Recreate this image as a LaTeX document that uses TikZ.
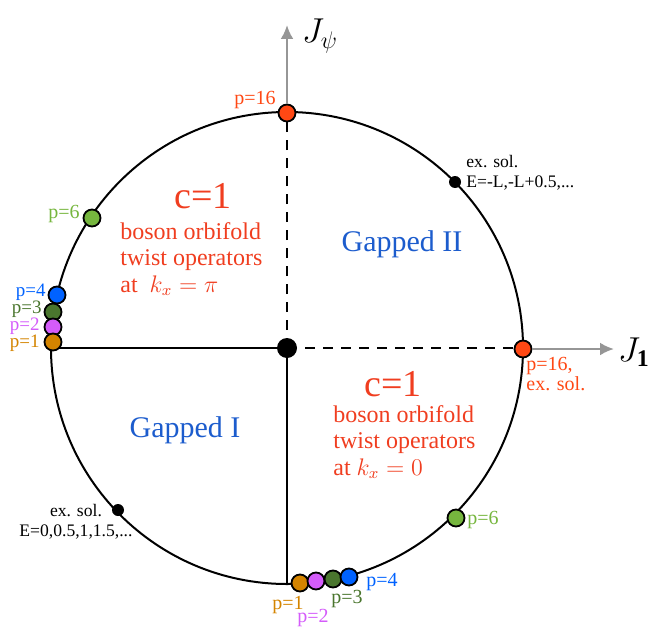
\documentclass[tikz,border=0pt]{standalone}
\usepackage{fontspec}
\setmainfont{Liberation Serif}
\usepackage{amsmath}
\usetikzlibrary{arrows.meta, positioning}
\definecolor{cred}{RGB}{240,62,32}
\definecolor{dred}{RGB}{255,72,20}
\definecolor{gblue}{RGB}{28,92,205}
\definecolor{pblue}{RGB}{0,98,255}
\definecolor{lgreen}{RGB}{118,182,62}
\definecolor{dgreen}{RGB}{74,118,46}
\definecolor{lilac}{RGB}{212,92,250}
\definecolor{amber}{RGB}{212,132,0}
\definecolor{axisgray}{RGB}{150,150,150}

\begin{document}
\begin{tikzpicture}[x=0.5pt, y=-0.5pt,
  rim/.style={line width=1pt},
  wall/.style={line width=1.4pt},
  axis/.style={draw=axisgray, line width=1.3pt, -{Latex[length=7pt,width=6.5pt]}},
  pdot/.style={circle, draw, line width=0.9pt, minimum size=8.5pt, inner sep=0pt},
  sol/.style={circle, fill=black, minimum size=6pt, inner sep=0pt},
  plab/.style={font=\fontsize{10}{11}\selectfont, inner sep=0pt},
  slab/.style={font=\fontsize{8.8}{10}\selectfont, inner sep=0pt},
  phase/.style={font=\fontsize{15}{18}\selectfont, text=gblue},
  cnum/.style={font=\fontsize{19}{22}\selectfont, text=cred},
  cft/.style={font=\fontsize{12}{13.3}\selectfont, text=cred, align=left, inner sep=0pt}
]
  \useasboundingbox (0,0) rectangle (663,626);

  \coordinate (O) at (287,348);
  \draw[rim] (O) circle [radius=118pt];

  % phase boundaries
  \coordinate (west) at (52,348);
  \coordinate (south) at (287,584);
  \coordinate (north) at (287,112);
  \coordinate (east) at (523,348);
  \draw[wall] (O) -- (west);
  \draw[wall] (O) -- (south);
  \draw[wall, dash pattern=on 5pt off 4pt] (O) -- (north);
  \draw[wall, dash pattern=on 5pt off 4pt] (O) -- (east);

  % exact solutions
  \node[sol] (solA) at (455,182) {};
  \node[slab, anchor=west, align=left] (solAtxt) at (466,173) {ex. sol.\\E=-L,-L+0.5,...};
  \node[sol] (solB) at (118,510) {};
  \node[slab, align=center] (solBtxt) at (76,522) {ex. sol.\\E=0,0.5,1,1.5,...};

  % p=16 points and axes
  \node[pdot, fill=dred] (ptop) at (287,113) {};
  \node[pdot, fill=dred] (pright) at (523,349) {};
  \node[plab, text=dred, anchor=east] (ptoplab) at (276,100) {p=16};
  \node[plab, text=dred, anchor=north west, align=left, font=\fontsize{10}{9}\selectfont]
    (prightlab) at (526,357) {p=16,\\ex. sol.};
  \node[font=\fontsize{17}{20}\selectfont] (Jpsi) at (320,36) {$J_\psi$};
  \node[font=\fontsize{17}{20}\selectfont] (Jone) at (634,352) {$J_{\mathbf{1}}$};
  \draw[axis] (ptop.north) -- (287,25);
  \draw[axis] (pright.east) -- (614,349);

  % left edge
  \node[pdot, fill=lgreen] (l6) at (92,218) {};
  \node[pdot, fill=pblue] (l4) at (57,295) {};
  \node[pdot, fill=dgreen] (l3) at (53,312) {};
  \node[pdot, fill=lilac] (l2) at (53,327) {};
  \node[pdot, fill=amber] (l1) at (53,342) {};
  \node[plab, text=lgreen, anchor=east] at (80,214) {p=6};
  \node[plab, text=pblue, anchor=east, font=\fontsize{9.5}{10}\selectfont] at (46,292) {p=4};
  \node[plab, text=dgreen, anchor=east, font=\fontsize{9.5}{10}\selectfont] at (42,309) {p=3};
  \node[plab, text=lilac, anchor=east, font=\fontsize{9.5}{10}\selectfont] at (40,326) {p=2};
  \node[plab, text=amber, anchor=east, font=\fontsize{9.5}{10}\selectfont] at (40,343) {p=1};

  % bottom edge
  \node[pdot, fill=lgreen] (b6) at (456,518) {};
  \node[pdot, fill=amber] (b1) at (300,583) {};
  \node[pdot, fill=lilac] (b2) at (316,581) {};
  \node[pdot, fill=dgreen] (b3) at (333,579) {};
  \node[pdot, fill=pblue] (b4) at (349,577) {};
  \node[plab, text=lgreen, anchor=west] at (467,520) {p=6};
  \node[plab, text=amber] at (288,605) {p=1};
  \node[plab, text=lilac] at (313,618) {p=2};
  \node[plab, text=dgreen] at (347,599) {p=3};
  \node[plab, text=pblue] at (382,582) {p=4};

  \node[circle, fill=black, minimum size=10pt, inner sep=0pt] (mid) at (O) {};

  % phases
  \node[phase] (gap2) at (402,244) {Gapped II};
  \node[phase] (gap1) at (185,430) {Gapped I};
  \node[cnum] (cA) at (203,196) {c=1};
  \node[cft, anchor=west] (cAtxt) at (120,259) {boson orbifold\\twist operators\\at \ $k_x=\pi$};
  \node[cnum] (cB) at (393,384) {c=1};
  \node[cft, anchor=west] (cBtxt) at (333,442) {boson orbifold\\twist operators\\at $k_x=0$};
\end{tikzpicture}
\end{document}
